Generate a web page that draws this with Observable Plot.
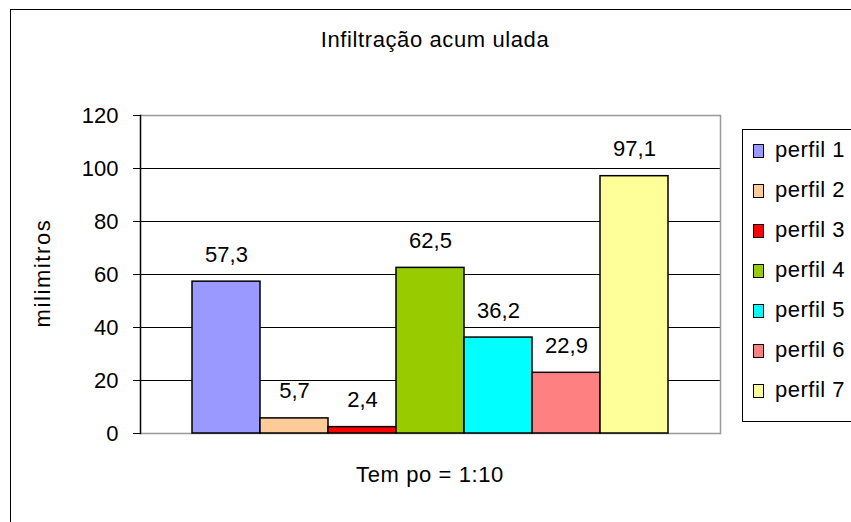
<!DOCTYPE html>
<html>
<head>
<meta charset="utf-8">
<script src="https://cdn.jsdelivr.net/npm/d3@7"></script>
<script src="https://cdn.jsdelivr.net/npm/@observablehq/plot@0.6"></script>
<style>
  html, body { margin: 0; padding: 0; background: #fff; overflow: hidden; }
  body { width: 851px; height: 522px; position: relative; font-family: "Liberation Sans", Arial, sans-serif; }
  #outer { position: absolute; left: 10px; top: 9px; width: 900px; height: 600px; border: 1px solid #000; box-sizing: border-box; }
  #chart { position: absolute; left: 0; top: 0; }
  .lbl { position: absolute; color: #000; font-size: 22px; letter-spacing: 0.6px; white-space: nowrap; line-height: 1; }
  #title { left: 0; width: 870px; top: 29px; text-align: center; }
  #xlabel { left: 0; width: 860px; top: 464px; text-align: center; }
  #ylabel { left: 43px; top: 273px; transform: translate(-50%, -50%) rotate(-90deg); letter-spacing: 1.6px; }
  #legend { position: absolute; left: 742px; top: 129px; width: 140px; height: 293px; border: 1px solid #000; box-sizing: border-box; }
  .item { position: absolute; left: 10px; height: 20px; }
  .sw { position: absolute; left: 0; top: 3px; width: 11px; height: 14px; border: 1px solid #000; box-sizing: border-box; }
  .it { position: absolute; left: 22px; top: -2px; font-size: 22px; letter-spacing: 0.5px; white-space: nowrap; line-height: 1; }
</style>
</head>
<body>
<div id="outer"></div>
<div id="chart"></div>
<div id="title" class="lbl">Infiltração acum ulada</div>
<div id="xlabel" class="lbl">Tem po = 1:10</div>
<div id="ylabel" class="lbl">milimitros</div>
<div id="legend"></div>
<script>
const perfis = ["perfil 1", "perfil 2", "perfil 3", "perfil 4", "perfil 5", "perfil 6", "perfil 7"];
const valores = [57.3, 5.7, 2.4, 62.5, 36.2, 22.9, 97.1];
const cores = ["#9999FF", "#FFCC99", "#FF0000", "#99CC00", "#00FFFF", "#FF8080", "#FFFF99"];
const yTicks = [0, 20, 40, 60, 80, 100, 120];

const data = perfis.map((p, i) => ({perfil: p, valor: valores[i]}));
const fmt = v => v.toFixed(1).replace(".", ",");

const plot = Plot.plot({
  width: 851,
  height: 522,
  marginLeft: 140,
  marginRight: 131,
  marginTop: 115,
  marginBottom: 89,
  style: {fontFamily: "Liberation Sans, Arial, sans-serif", fontSize: "22px", color: "#000", background: "transparent", overflow: "visible"},
  x: {domain: perfis, range: [190, 669], padding: 0, axis: null},
  y: {domain: [0, 120], axis: null},
  color: {domain: perfis, range: cores},
  marks: [
    Plot.ruleY([20, 40, 60, 80, 100], {stroke: "#000", strokeWidth: 1}),
    Plot.ruleY([0, 120], {stroke: "#999", strokeWidth: 1.5}),
    Plot.frame({anchor: "right", stroke: "#999", strokeWidth: 1.5}),
    Plot.frame({anchor: "left", stroke: "#000", strokeWidth: 1.5}),
    Plot.axisY({ticks: yTicks, label: null, tickSize: 7, tickPadding: 15, tickFormat: d => d, fontSize: 22, stroke: "#000", style: {letterSpacing: "0.5px"}}),
    Plot.barY(data, {x: "perfil", y: "valor", fill: "perfil", stroke: "#000", strokeWidth: 1.5}),
    Plot.text(data, {x: "perfil", y: "valor", text: d => fmt(d.valor), lineAnchor: "bottom", dy: -20, fontSize: 22, fill: "#000", style: {letterSpacing: "0.6px"}})
  ]
});
document.getElementById("chart").appendChild(plot);

const legend = document.getElementById("legend");
perfis.forEach((p, i) => {
  const it = document.createElement("div");
  it.className = "item";
  it.style.top = (11 + i * 40) + "px";
  const sw = document.createElement("div");
  sw.className = "sw";
  sw.style.background = cores[i];
  const t = document.createElement("div");
  t.className = "it";
  t.textContent = p;
  it.appendChild(sw);
  it.appendChild(t);
  legend.appendChild(it);
});
</script>
</body>
</html>
